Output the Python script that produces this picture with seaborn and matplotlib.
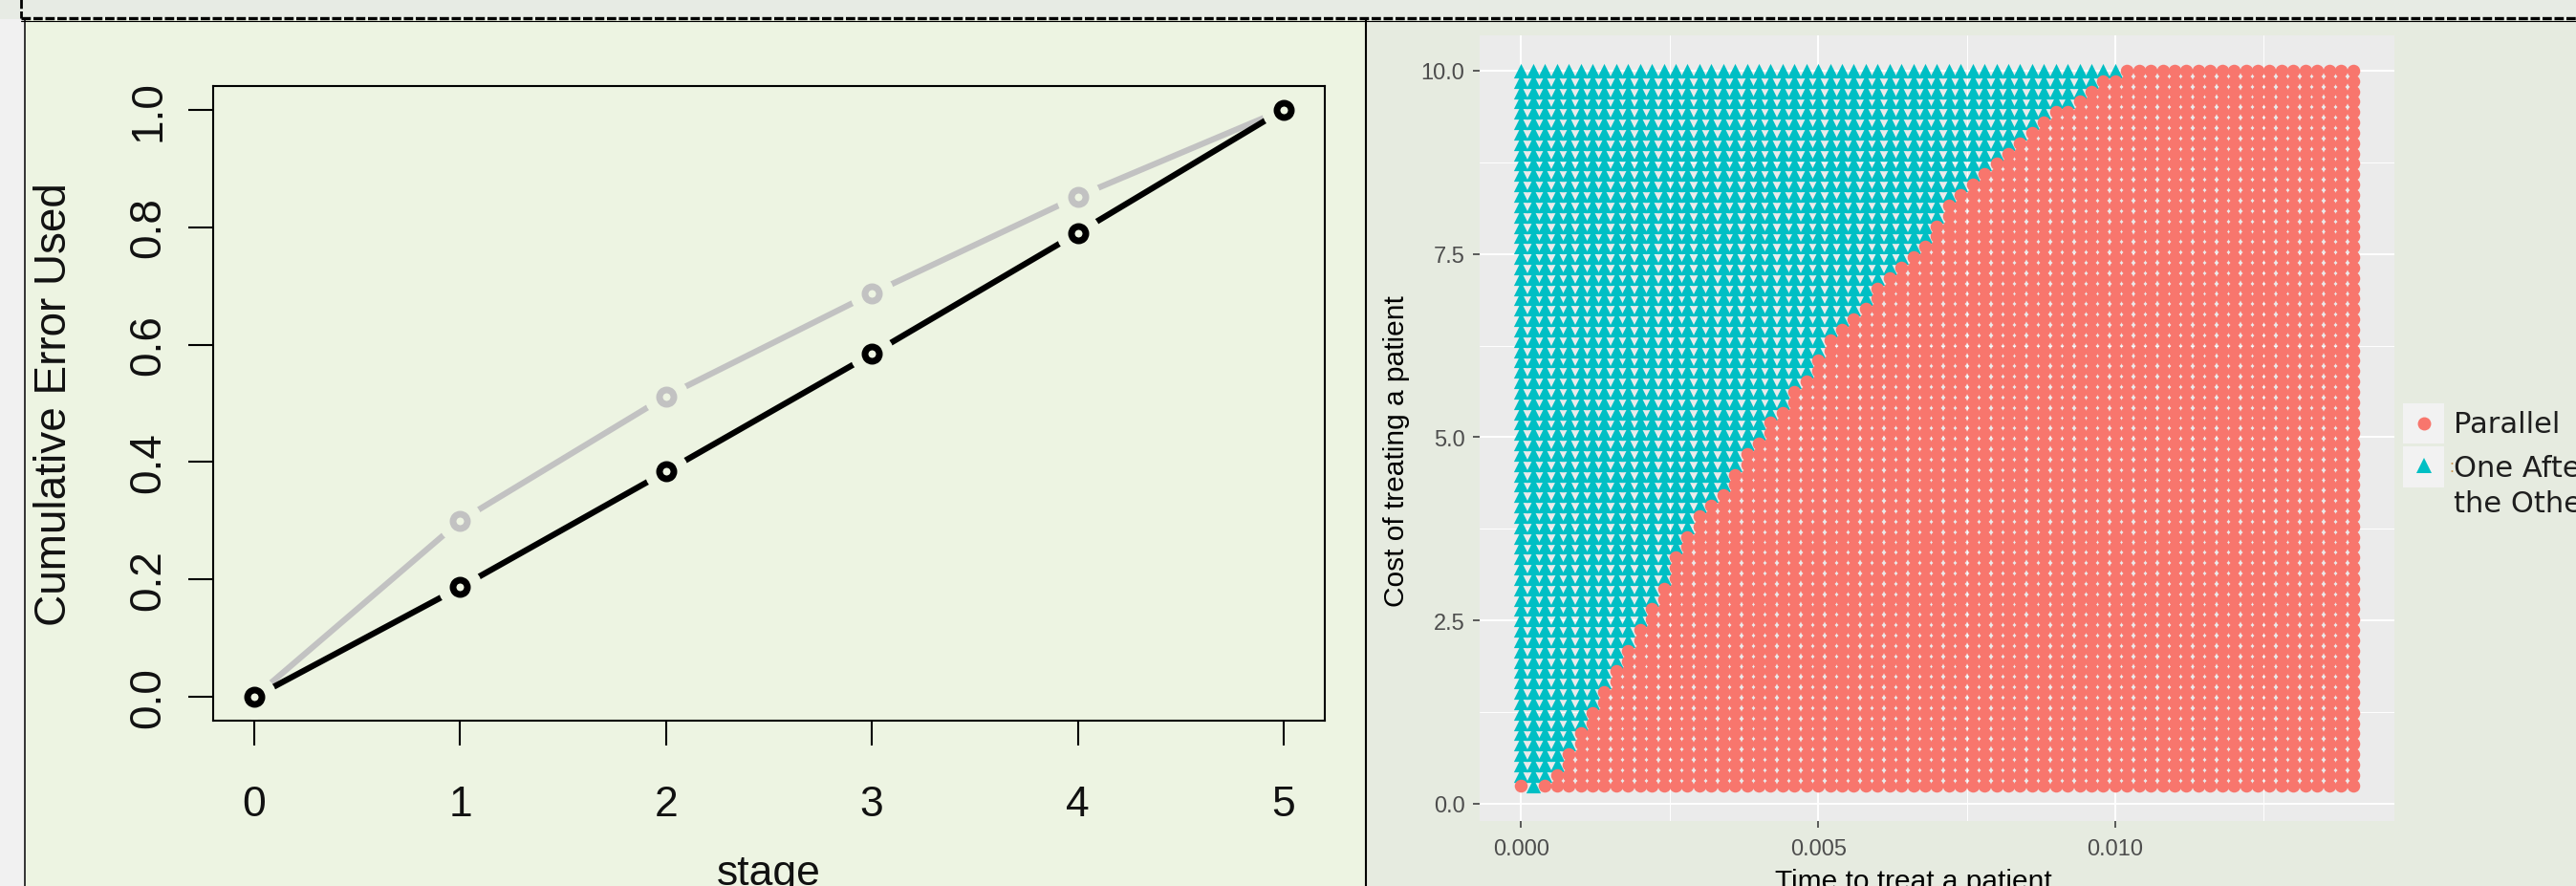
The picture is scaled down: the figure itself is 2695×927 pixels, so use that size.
import numpy as np
import pandas as pd
import seaborn as sns
import matplotlib.pyplot as plt
from matplotlib import font_manager
from matplotlib.lines import Line2D
from matplotlib.patches import Rectangle

# ---- left chart: cumulative error used at each stage ----
stages = [0, 1, 2, 3, 4, 5]
error_lower = [0.0, 0.187, 0.384, 0.584, 0.790, 1.0]   # black line
error_upper = [0.0, 0.300, 0.512, 0.687, 0.852, 1.0]   # grey line
y_ticks_left = [0.0, 0.2, 0.4, 0.6, 0.8, 1.0]

# ---- right chart: grid of (time, cost) pairs, coloured by the cheaper design ----
time_values = np.round(np.arange(0, 0.01401, 0.0002), 4)   # 71 columns
cost_values = np.linspace(0.25, 10, 70)                      # 70 rows, bottom first
# index of the first "Parallel" column in each row (bottom row first)
first_parallel = [2, 3, 4, 4, 5, 5, 6, 6, 7, 7,
                  8, 8, 9, 9, 10, 10, 11, 11, 12, 12,
                  13, 13, 13, 14, 14, 15, 15, 16, 17, 18,
                  18, 19, 19, 20, 21, 21, 22, 23, 23, 24,
                  25, 25, 26, 26, 27, 28, 29, 30, 30, 31,
                  32, 33, 34, 35, 35, 36, 36, 37, 38, 39,
                  40, 41, 42, 43, 44, 45, 47, 48, 49, 51]
origin_parallel = [0]          # stray Parallel point at time 0 in the bottom row
designs = ["Parallel", "One After\nthe Other"]
design_colors = ["#F8766D", "#00BFC4"]
x_ticks_right = [0.0, 0.005, 0.010]
y_ticks_right = [0.0, 2.5, 5.0, 7.5, 10.0]

rows = []
for i, cost in enumerate(cost_values):
    for j, t in enumerate(time_values):
        par = j >= first_parallel[i] or (i == 0 and j in origin_parallel)
        rows.append((t, cost, designs[0] if par else designs[1]))
grid = pd.DataFrame(rows, columns=["time", "cost", "design"])


def has_font(name):
    try:
        font_manager.findfont(font_manager.FontProperties(family=name),
                              fallback_to_default=False)
        return True
    except ValueError:
        return False


sns.set_theme(style="ticks")
plt.rcParams["font.family"] = ["Liberation Sans", "DejaVu Sans"]
plt.rcParams["lines.scale_dashes"] = False

if has_font("Liberation Sans Narrow"):
    r_font = {"family": "Liberation Sans Narrow", "size": 36}
else:
    r_font = {"family": "Liberation Sans", "size": 32}

W, H = 2695, 928
fig = plt.figure(figsize=(W / 100, H / 100), dpi=100)
fig.patch.set_facecolor("#E7EBE4")


def frac(x0, y0, x1, y1):
    return [x0 / W, 1 - y1 / H, (x1 - x0) / W, (y1 - y0) / H]


def fig_rect(x0, y0, x1, y1, color):
    l, b, w, h = frac(x0, y0, x1, y1)
    fig.add_artist(Rectangle((l, b), w, h, transform=fig.transFigure,
                             facecolor=color, edgecolor="none", zorder=-10))


def fig_line(xs, ys, **kw):
    fig.add_artist(Line2D([x / W for x in xs], [1 - y / H for y in ys],
                          transform=fig.transFigure, **kw))


# screenshot background pieces
fig_rect(0, 21, 27, H, "#F1F1F1")
fig_rect(27, 21, 1429, H, "#EDF4E2")
fig_rect(1429, 21, W, H, "#E6EBE0")
fig_line([22, W], [20, 20], color="black", lw=2.4, dashes=(7, 2))
fig_line([22, W], [22.5, 22.5], color="black", lw=0.8)
fig_line([21.5, 21.5], [0, 20], color="black", lw=2.0, dashes=(7, 2))
fig_line([26.5, 26.5], [21, H], color="black", lw=1.1)
fig_line([1429, 1429], [21, H], color="black", lw=1.5)

# ---------------- left: base-R style line chart ----------------
bg_left = "#EDF4E2"
ax1 = fig.add_axes(frac(223, 91, 1386, 755))
ax1.set_facecolor("none")
z = 2
for vals, col in [(error_upper, "#C2C2C2"), (error_lower, "black")]:
    sns.lineplot(x=stages, y=vals, color=col, lw=4.5, ax=ax1, zorder=z)
    # background disc leaves the gap around each point (type = "b")
    sns.scatterplot(x=stages, y=vals, s=1100, color=bg_left, linewidth=0,
                    ax=ax1, zorder=z + 1)
    sns.scatterplot(x=stages, y=vals, s=117, ax=ax1, zorder=z + 2)
    ring = ax1.collections[-1]
    ring.set_facecolor(bg_left)
    ring.set_edgecolor(col)
    ring.set_linewidth(5)
    z += 3

ax1.set_xlim(-0.2, 5.2)
ax1.set_ylim(-0.04, 1.04)
ax1.set_xticks(stages)
ax1.set_xticklabels([str(s) for s in stages], **r_font, color="#111111")
ax1.set_yticks(y_ticks_left)
ax1.set_yticklabels([f"{v:.1f}" for v in y_ticks_left], rotation=90,
                    va="center", fontsize=33, color="#111111")
ax1.tick_params(axis="both", direction="out", length=19, width=1.5,
                color="black")
ax1.tick_params(axis="x", pad=29)
ax1.tick_params(axis="y", pad=14)
for sp in ax1.spines.values():
    sp.set_visible(True)
    sp.set_color("black")
    sp.set_linewidth(1.5)
ax1.set_xlabel("stage", **r_font, color="#111111")
ax1.set_ylabel("Cumulative Error Used", fontsize=33, color="#111111")
ax1.xaxis.set_label_coords(0.5, -0.21)
ax1.yaxis.set_label_coords(-0.124, 0.5)

# ---------------- right: ggplot style decision grid ----------------
ax2 = fig.add_axes(frac(1548, 37.6, 2505, 860))
ax2.set_facecolor("#EBEBEB")
for d, col, mk, size in [(designs[1], design_colors[1], "^", 120),
                         (designs[0], design_colors[0], "o", 95)]:
    sub = grid[grid["design"] == d]
    sns.scatterplot(data=sub, x="time", y="cost", marker=mk, color=col,
                    s=size, linewidth=0, ax=ax2, legend=False, zorder=3)

ax2.set_xlim(-0.0007, 0.0147)
ax2.set_ylim(-0.2375, 10.4875)
ax2.set_xticks(x_ticks_right)
ax2.set_xticklabels([f"{v:.3f}" for v in x_ticks_right])
ax2.set_yticks(y_ticks_right)
ax2.set_yticklabels([f"{v:.1f}" for v in y_ticks_right])
ax2.set_xticks([0.0025, 0.0075, 0.0125], minor=True)
ax2.set_yticks([1.25, 3.75, 6.25, 8.75], minor=True)
ax2.grid(which="major", color="white", lw=1.4, zorder=0)
ax2.grid(which="minor", color="white", lw=0.7, zorder=0)
ax2.set_axisbelow(True)
for sp in ax2.spines.values():
    sp.set_visible(False)
ax2.tick_params(which="major", length=4.8, width=1.1, color="#333333",
                labelcolor="#4D4D4D", labelsize=17)
ax2.tick_params(which="minor", length=0)
ax2.tick_params(axis="y", pad=6.3)
ax2.tick_params(axis="x", pad=8)
ax2.set_xlabel("Time to treat a patient", fontsize=21.5, color="black")
ax2.set_ylabel("Cost of treating a patient", fontsize=21.5, color="black")
ax2.xaxis.set_label_coords(0.474, -0.0596)
ax2.yaxis.set_label_coords(-0.0763, 0.472)

# legend keys and labels
fig_rect(2514, 423, 2557, 465, "#F2F2F2")
fig_rect(2514, 468, 2557, 511, "#F2F2F2")
fig.add_artist(Line2D([2535.5 / W], [1 - 444 / H], marker="o", ms=10,
                      color=design_colors[0], mew=0, transform=fig.transFigure))
fig.add_artist(Line2D([2535.5 / W], [1 - 488 / H], marker="^", ms=11.5,
                      color=design_colors[1], mew=0, transform=fig.transFigure))
fig.text(2567 / W, 1 - 445 / H, designs[0], fontsize=22, color="#1E1E1E",
         family="DejaVu Sans", va="center", ha="left")
for k, line in enumerate(designs[1].split("\n")):
    fig.text(2567 / W, 1 - (491 + 37 * k) / H, line, fontsize=22,
             color="#1E1E1E", family="DejaVu Sans", va="center", ha="left")
fig.text(2562 / W, 1 - 490 / H, ":", fontsize=13, color="#C8904A",
         va="center", ha="left")

fig.savefig("out.png", dpi=100, facecolor=fig.get_facecolor())
